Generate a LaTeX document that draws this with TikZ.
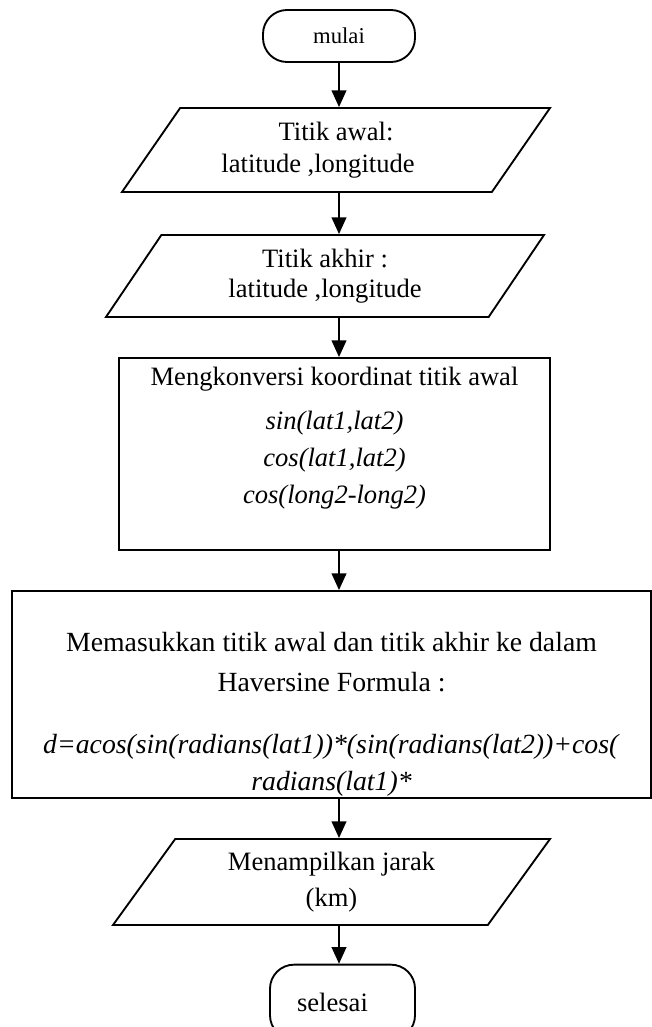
\documentclass[tikz,border=0pt]{standalone}
\usepackage{fontspec}
\setmainfont{Liberation Serif}
\usetikzlibrary{arrows.meta,shapes.geometric}

\begin{document}
\begin{tikzpicture}[x=0.75pt,y=0.75pt,yscale=-1,xscale=1,
  terminal/.style={draw,line width=1.4pt,rounded corners=18pt,inner sep=0pt},
  dataio/.style={draw,line width=1.4pt,trapezium,trapezium left angle=44,trapezium right angle=136,trapezium stretches body=true,inner sep=0pt,align=center},
  proses/.style={draw,line width=1.4pt,inner sep=0pt},
  teks/.style={inner sep=0pt,align=center},
  panah/.style={line width=1.4pt,-{Triangle[length=12.5pt,width=11pt]}}]
\useasboundingbox (0,0) rectangle (652,1027);

%Shape: Terminal mulai
\node[terminal,minimum width=114pt,minimum height=39pt,font=\fontsize{17}{20}\selectfont] (mulai) at (339,36) {mulai};

%Shape: Data titik awal
\node[dataio,minimum width=321pt,minimum height=63pt,font=\fontsize{19.9}{24}\selectfont] (awal) at (336,150) {Titik awal:\\latitude ,longitude\hspace*{27pt}};

%Shape: Data titik akhir
\node[dataio,minimum width=328.5pt,minimum height=61.5pt,font=\fontsize{19.9}{22}\selectfont] (akhir) at (325,276) {Titik akhir :\\latitude ,longitude};

%Shape: Proses konversi
\node[proses,minimum width=323.25pt,minimum height=144pt] (konversi) at (334.5,454) {};
\node[teks,anchor=north,font=\fontsize{19.9}{28}\selectfont] (konversiteks) at (334.5,367) {Mengkonversi koordinat titik awal\\[4.5pt]\textit{sin(lat1,lat2)}\\\textit{cos(lat1,lat2)}\\\textit{cos(long2-long2)}};

%Shape: Proses haversine
\node[proses,minimum width=479.25pt,minimum height=155.25pt] (haversine) at (331.5,694.5) {};
\node[teks,anchor=north,font=\fontsize{20.8}{28}\selectfont] (haversineteks) at (331.5,632) {Memasukkan titik awal dan titik akhir ke dalam\\[2pt]Haversine Formula :\\[18.5pt]\textit{d=acos(sin(radians(lat1))*(sin(radians(lat2))+cos(}\\\textit{radians(lat1)*}};

%Shape: Data jarak
\node[dataio,minimum width=327.75pt,minimum height=64.5pt,font=\fontsize{19.9}{27}\selectfont] (jarak) at (331.5,882) {Menampilkan jarak\\(km)};

%Shape: Terminal selesai
\node[terminal,minimum width=108.75pt,minimum height=56pt,font=\fontsize{19.9}{24}\selectfont] (selesai) at (342.5,1002) {selesai\hspace*{15pt}};

%Straight Lines
\draw[panah] (mulai.south) -- (mulai.south |- awal.north);
\draw[panah] (mulai |- awal.south) -- (mulai |- akhir.north);
\draw[panah] (mulai |- akhir.south) -- (mulai |- konversi.north);
\draw[panah] (mulai |- konversi.south) -- (mulai |- haversine.north);
\draw[panah] (mulai |- haversine.south) -- (mulai |- jarak.north);
\draw[panah] (mulai |- jarak.south) -- (mulai |- selesai.north);

\end{tikzpicture}
\end{document}
